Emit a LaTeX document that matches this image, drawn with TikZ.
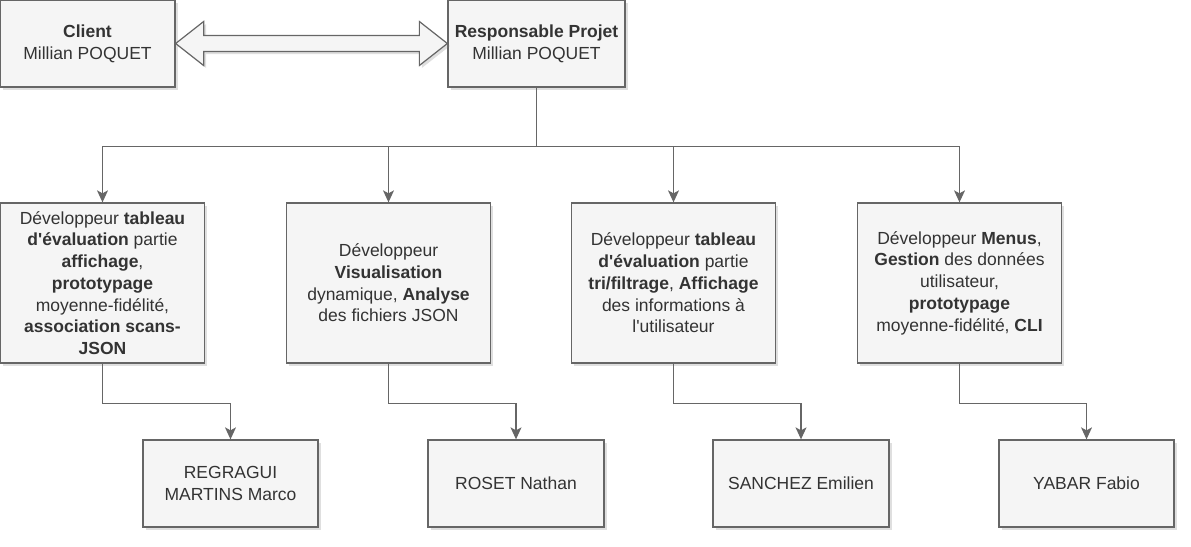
\documentclass[tikz,border=0pt]{standalone}
\usepackage{fontspec}
\setmainfont{Liberation Sans}
\usepackage{tikz}
\usetikzlibrary{arrows.meta,shadows,calc}

\definecolor{boxfill}{HTML}{F5F5F5}
\definecolor{boxline}{HTML}{666666}
\definecolor{boxtext}{HTML}{333333}

\begin{document}
\begin{tikzpicture}[x=1pt,y=-1pt]
\tikzstyle{every node}=[draw=boxline,fill=boxfill,line width=1.3pt,align=center,
  text=boxtext,font=\fontsize{17.5}{21.7}\selectfont,inner sep=0pt,
  drop shadow={opacity=0.25,shadow xshift=2.5pt,shadow yshift=-2.5pt}]
\tikzstyle{small box}=[minimum width=175pt,minimum height=87pt]
\tikzstyle{dev box}=[minimum width=204pt,minimum height=160pt]
\tikzstyle{link}=[draw=boxline,line width=1.2pt,
  -{Stealth[length=12pt,width=11pt,inset=3pt]}]

\useasboundingbox (0,0) rectangle (1191,546);

% haut
\node[small box] (client) at (87.5,43.5) {\textbf{Client}\\ Millian POQUET};
\node[small box,minimum width=177pt] (resp) at (536.5,43.5) {\textbf{Responsable Projet}\\ Millian POQUET};

\draw[draw=boxline,fill=boxfill,line width=1.2pt,
  drop shadow={opacity=0.25,shadow xshift=2.5pt,shadow yshift=-2.5pt}]
  (client.east) -- ++(28,-22) -- ++(0,14)
  -- ($(resp.west)+(-28,-8)$) -- ++(0,-14) -- (resp.west) -- ++(-28,22) -- ++(0,-14)
  -- ($(client.east)+(28,8)$) -- ++(0,14) -- cycle;

% developpeurs
\node[dev box] (dev1) at (102.5,283) {D\'eveloppeur \textbf{tableau}\\ \textbf{d\textquotesingle \'evaluation} partie\\ \textbf{affichage},\\ \textbf{prototypage}\\ moyenne-fid\'elit\'e,\\ \textbf{association scans-}\\ \textbf{JSON}};
\node[dev box] (dev2) at (388.5,283) {D\'eveloppeur\\ \textbf{Visualisation}\\ dynamique, \textbf{Analyse}\\ des fichiers JSON};
\node[dev box] (dev3) at (673.5,283) {D\'eveloppeur \textbf{tableau}\\ \textbf{d\textquotesingle \'evaluation} partie\\ \textbf{tri/filtrage}, \textbf{Affichage}\\ des informations \`a\\ l\textquotesingle utilisateur};
\node[dev box] (dev4) at (959.5,283) {D\'eveloppeur \textbf{Menus},\\ \textbf{Gestion} des donn\'ees\\ utilisateur,\\ \textbf{prototypage}\\ moyenne-fid\'elit\'e, \textbf{CLI}};

% noms
\node[small box] (name1) at (230.5,483.5) {REGRAGUI\\ MARTINS Marco};
\node[small box,minimum width=176pt] (name2) at (516,483.5) {ROSET Nathan};
\node[small box,minimum width=176pt] (name3) at (801,483.5) {SANCHEZ Emilien};
\node[small box] (name4) at (1086.5,483.5) {YABAR Fabio};

\foreach \i in {1,...,4}{
  \draw[link] (resp.south) -- ++(0,59) -| (dev\i.north);
  \draw[link] (dev\i.south) -- ++(0,40) -| (name\i.north);
}
\end{tikzpicture}
\end{document}
